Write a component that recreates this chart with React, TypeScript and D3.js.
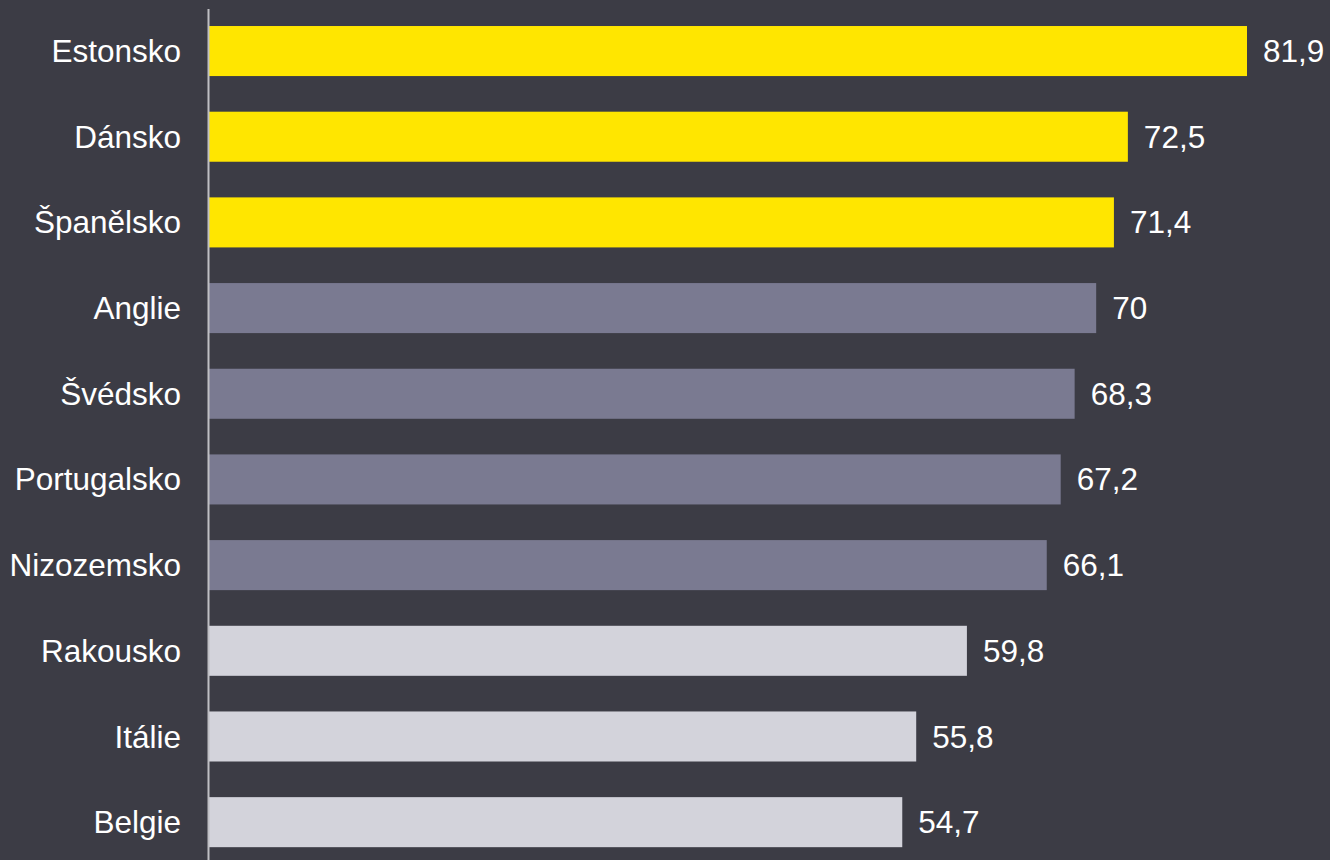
import React from "react";
import * as d3 from "d3";

const categories = ["Estonsko", "Dánsko", "Španělsko", "Anglie", "Švédsko", "Portugalsko", "Nizozemsko", "Rakousko", "Itálie", "Belgie"];
const values = [81.9, 72.5, 71.4, 70, 68.3, 67.2, 66.1, 59.8, 55.8, 54.7];
const groups = ["top", "top", "top", "mid", "mid", "mid", "mid", "low", "low", "low"];
const groupColors: Record<string, string> = { top: "#FFE600", mid: "#7A7A91", low: "#D3D3DB" };

const W = 1330;
const H = 860;

export default function App() {
  const x = d3.scaleLinear().domain([0, 81.9]).range([209, 1247]);
  const y = d3.scaleBand<string>().domain(categories).range([8.2, 865]).paddingInner(0.416).paddingOuter(0.208);
  const fmt = (v: number) => String(v).replace(".", ",");
  return (
    <svg width={W} height={H} style={{ position: "fixed", left: 0, top: 0, background: "#3C3C45" }}>
      <rect x={0} y={0} width={W} height={H} fill="#3C3C45" />
      {categories.map((c, i) => (
        <g key={c}>
          <rect x={x(0)} y={y(c)!} width={x(values[i]) - x(0)} height={y.bandwidth()} fill={groupColors[groups[i]]} />
          <text x={x(values[i]) + 16} y={y(c)! + y.bandwidth() / 2} dy="0.35em" fill="#FFFFFF"
            fontFamily="Liberation Sans, Arial, sans-serif" fontSize={31.5}>{fmt(values[i])}</text>
          <text x={181} y={y(c)! + y.bandwidth() / 2} dy="0.35em" textAnchor="end" fill="#FFFFFF"
            fontFamily="Liberation Sans, Arial, sans-serif" fontSize={31.5}>{c}</text>
        </g>
      ))}
      <line x1={208.5} x2={208.5} y1={9} y2={H} stroke="#BFBFC4" strokeWidth={2} />
    </svg>
  );
}
